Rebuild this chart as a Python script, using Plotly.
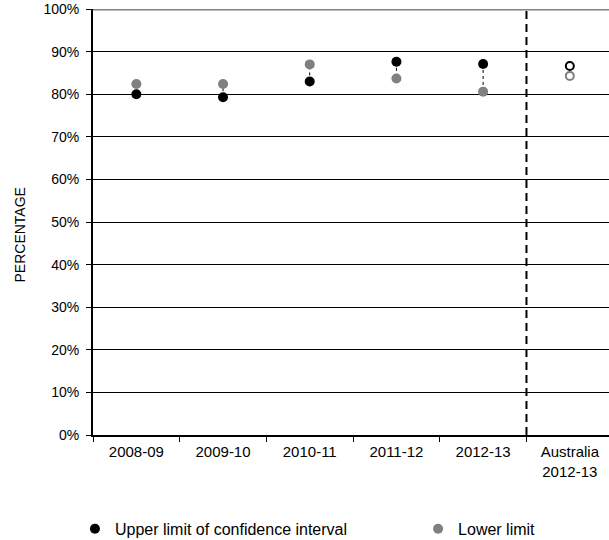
import plotly.graph_objects as go

# Reporting periods (state series) and the national comparison column
periods = ["2008-09", "2009-10", "2010-11", "2011-12", "2012-13"]
national_label = "Australia<br>2012-13"

# Confidence interval limits, per cent
upper_limit = [80.0, 79.3, 83.0, 87.6, 87.1]
lower_limit = [82.4, 82.4, 87.0, 83.7, 80.6]
national_upper = [86.6]
national_lower = [84.3]

y_ticks = list(range(0, 101, 10))
y_tick_text = [f"{v}%" for v in y_ticks]

BLACK = "#000000"
GREY = "#808080"
FONT = "Liberation Sans, Arial, sans-serif"

categories = periods + [national_label]

fig = go.Figure()

# Dotted connectors between the two limits of each period
for p, u, l in zip(periods, upper_limit, lower_limit):
    fig.add_trace(go.Scatter(
        x=[p, p], y=[u, l], mode="lines",
        line=dict(color=BLACK, width=1, dash="dot"),
        showlegend=False, hoverinfo="skip",
    ))

fig.add_trace(go.Scatter(
    x=periods, y=upper_limit, mode="markers",
    name="Upper limit of confidence interval",
    marker=dict(color=BLACK, size=10),
    legend="legend",
))
fig.add_trace(go.Scatter(
    x=periods, y=lower_limit, mode="markers",
    name="Lower limit",
    marker=dict(color=GREY, size=10),
    legend="legend2",
))

# National figures drawn as hollow circles
fig.add_trace(go.Scatter(
    x=[national_label], y=national_upper, mode="markers",
    marker=dict(color="white", size=8, line=dict(color=BLACK, width=2)),
    showlegend=False,
))
fig.add_trace(go.Scatter(
    x=[national_label], y=national_lower, mode="markers",
    marker=dict(color="white", size=8, line=dict(color=GREY, width=2)),
    showlegend=False,
))

# Separator between the state series and the national column
fig.add_shape(type="line", xref="x", yref="y",
              x0=4.5, x1=4.5, y0=0, y1=100,
              line=dict(color=BLACK, width=2, dash="8px,5px"))
# Grey top border at 100%
fig.add_shape(type="line", xref="paper", yref="y",
              x0=0, x1=1, y0=100, y1=100,
              line=dict(color=GREY, width=3))

fig.add_annotation(
    text="PERCENTAGE", textangle=-90, showarrow=False,
    xref="paper", yref="paper", x=-0.142, y=0.47,
    xanchor="center", yanchor="middle",
    font=dict(family=FONT, size=14, color="#000000"),
)

fig.update_xaxes(
    type="category", categoryorder="array", categoryarray=categories,
    range=[-0.5, 5.452],
    showline=True, linecolor=BLACK, linewidth=2,
    ticks="outside", tickson="boundaries", ticklen=5, tickcolor=BLACK,
    showgrid=False, zeroline=False,
    tickfont=dict(family=FONT, size=15, color="#000000"),
    ticklabelstandoff=2,
)
fig.update_yaxes(
    range=[0, 100], tickvals=y_ticks, ticktext=y_tick_text,
    showline=True, linecolor=BLACK, linewidth=2,
    ticks="outside", ticklen=5, tickcolor=BLACK,
    showgrid=True, gridcolor=BLACK, gridwidth=1, zeroline=False,
    tickfont=dict(family=FONT, size=14, color="#000000"),
    ticklabelstandoff=4,
)

legend_style = dict(
    orientation="h", xanchor="left", yanchor="top",
    xref="paper", yref="container",
    font=dict(family=FONT, size=16, color="#000000"),
    itemwidth=30, bgcolor="rgba(0,0,0,0)",
)

fig.update_layout(
    width=609, height=540,
    margin=dict(l=93, r=0, t=9, b=105),
    paper_bgcolor="white", plot_bgcolor="white",
    showlegend=True,
    legend=dict(x=-0.035, y=0.052, **legend_style),
    legend2=dict(x=0.63, y=0.052, **legend_style),
)

fig.write_html("out.html")
